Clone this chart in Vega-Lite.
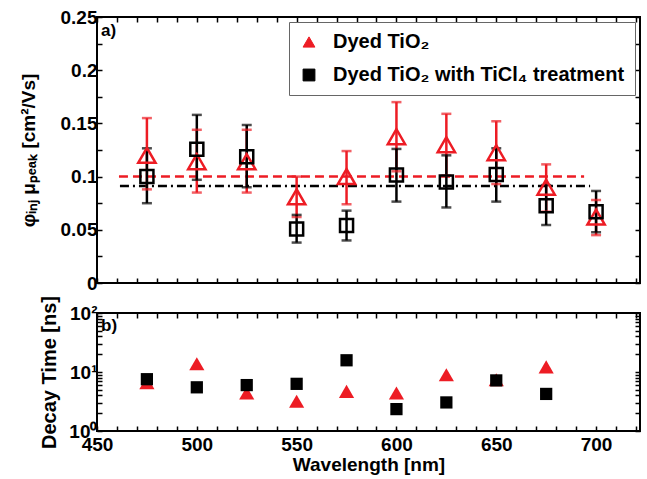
{
  "$schema": "https://vega.github.io/schema/vega-lite/v6.json",
  "autosize": {"type": "none"},
  "padding": {"left": 97, "top": 17, "right": 550, "bottom": 462},
  "datasets": {
    "mob": [
      {"w": 475, "series": "Dyed TiO₂", "v": 0.120, "lo": 0.088, "hi": 0.155},
      {"w": 500, "series": "Dyed TiO₂", "v": 0.114, "lo": 0.085, "hi": 0.144},
      {"w": 525, "series": "Dyed TiO₂", "v": 0.114, "lo": 0.085, "hi": 0.144},
      {"w": 550, "series": "Dyed TiO₂", "v": 0.081, "lo": 0.062, "hi": 0.100},
      {"w": 575, "series": "Dyed TiO₂", "v": 0.100, "lo": 0.074, "hi": 0.124},
      {"w": 600, "series": "Dyed TiO₂", "v": 0.1375, "lo": 0.105, "hi": 0.170},
      {"w": 625, "series": "Dyed TiO₂", "v": 0.130, "lo": 0.101, "hi": 0.159},
      {"w": 650, "series": "Dyed TiO₂", "v": 0.1225, "lo": 0.093, "hi": 0.152},
      {"w": 675, "series": "Dyed TiO₂", "v": 0.090, "lo": 0.067, "hi": 0.1115},
      {"w": 700, "series": "Dyed TiO₂", "v": 0.062, "lo": 0.045, "hi": 0.078},
      {"w": 475, "series": "Dyed TiO₂ with TiCl₄ treatment", "v": 0.100, "lo": 0.075, "hi": 0.1266},
      {"w": 500, "series": "Dyed TiO₂ with TiCl₄ treatment", "v": 0.1257, "lo": 0.097, "hi": 0.158},
      {"w": 525, "series": "Dyed TiO₂ with TiCl₄ treatment", "v": 0.1187, "lo": 0.090, "hi": 0.1485},
      {"w": 550, "series": "Dyed TiO₂ with TiCl₄ treatment", "v": 0.0508, "lo": 0.038, "hi": 0.064},
      {"w": 575, "series": "Dyed TiO₂ with TiCl₄ treatment", "v": 0.054, "lo": 0.040, "hi": 0.068},
      {"w": 600, "series": "Dyed TiO₂ with TiCl₄ treatment", "v": 0.1015, "lo": 0.0765, "hi": 0.126},
      {"w": 625, "series": "Dyed TiO₂ with TiCl₄ treatment", "v": 0.095, "lo": 0.071, "hi": 0.120},
      {"w": 650, "series": "Dyed TiO₂ with TiCl₄ treatment", "v": 0.102, "lo": 0.0765, "hi": 0.1266},
      {"w": 675, "series": "Dyed TiO₂ with TiCl₄ treatment", "v": 0.0727, "lo": 0.0545, "hi": 0.092},
      {"w": 700, "series": "Dyed TiO₂ with TiCl₄ treatment", "v": 0.067, "lo": 0.0477, "hi": 0.0865}
    ],
    "fits": [
      {"series": "Dyed TiO₂", "w1": 461, "w2": 694, "v": 0.100},
      {"series": "Dyed TiO₂ with TiCl₄ treatment", "w1": 461.5, "w2": 697, "v": 0.0912}
    ],
    "decay": [
      {"w": 475, "series": "Dyed TiO₂", "t": 6.6},
      {"w": 500, "series": "Dyed TiO₂", "t": 13.8},
      {"w": 525, "series": "Dyed TiO₂", "t": 4.4},
      {"w": 550, "series": "Dyed TiO₂", "t": 3.2},
      {"w": 575, "series": "Dyed TiO₂", "t": 4.7},
      {"w": 600, "series": "Dyed TiO₂", "t": 4.4},
      {"w": 625, "series": "Dyed TiO₂", "t": 9.0},
      {"w": 650, "series": "Dyed TiO₂", "t": 7.4},
      {"w": 675, "series": "Dyed TiO₂", "t": 12.2},
      {"w": 475, "series": "Dyed TiO₂ with TiCl₄ treatment", "t": 7.55},
      {"w": 500, "series": "Dyed TiO₂ with TiCl₄ treatment", "t": 5.5},
      {"w": 525, "series": "Dyed TiO₂ with TiCl₄ treatment", "t": 6.0},
      {"w": 550, "series": "Dyed TiO₂ with TiCl₄ treatment", "t": 6.3},
      {"w": 575, "series": "Dyed TiO₂ with TiCl₄ treatment", "t": 15.8},
      {"w": 600, "series": "Dyed TiO₂ with TiCl₄ treatment", "t": 2.35},
      {"w": 625, "series": "Dyed TiO₂ with TiCl₄ treatment", "t": 3.05},
      {"w": 650, "series": "Dyed TiO₂ with TiCl₄ treatment", "t": 7.2},
      {"w": 675, "series": "Dyed TiO₂ with TiCl₄ treatment", "t": 4.25}
    ],
    "noteA": [{"label": "a)", "w": 452, "v": 0.237}],
    "noteB": [{"label": "b)", "w": 452, "t": 60}]
  },
  "vconcat": [
    {
      "width": 543,
      "height": 266,
      "layer": [
        {
          "data": {"name": "fits"},
          "transform": [{"filter": "datum.series === 'Dyed TiO₂'"}],
          "mark": {"type": "rule", "strokeWidth": 2.5, "color": "#ed1c24", "strokeDash": [9, 5]},
          "encoding": {
            "x": {"field": "w1", "type": "quantitative", "scale": {"domain": [450, 722], "nice": false, "zero": false},
              "axis": {"orient": "top", "values": [450,460,470,480,490,500,510,520,530,540,550,560,570,580,590,600,610,620,630,640,650,660,670,680,690,700,710,720], "labels": false, "title": null}},
            "x2": {"field": "w2"},
            "y": {"field": "v", "type": "quantitative", "scale": {"domain": [0, 0.25], "nice": false},
              "axis": {"orient": "right", "values": [0,0.025,0.05,0.075,0.1,0.125,0.15,0.175,0.2,0.225,0.25], "labels": false, "title": null}}
          }
        },
        {
          "data": {"name": "fits"},
          "transform": [{"filter": "datum.series !== 'Dyed TiO₂'"}],
          "mark": {"type": "rule", "strokeWidth": 2.5, "color": "#000000", "strokeDash": [9, 4, 2, 4]},
          "encoding": {
            "x": {"field": "w1", "type": "quantitative", "axis": null},
            "x2": {"field": "w2"},
            "y": {"field": "v", "type": "quantitative", "axis": null}
          }
        },
        {
          "data": {"name": "mob"},
          "mark": {"type": "rule", "strokeWidth": 2.5},
          "encoding": {
            "x": {"field": "w", "type": "quantitative", "axis": null},
            "y": {"field": "lo", "type": "quantitative", "axis": null},
            "y2": {"field": "hi"},
            "color": {"field": "series", "type": "nominal", "scale": {"domain": ["Dyed TiO₂", "Dyed TiO₂ with TiCl₄ treatment"], "range": ["#ed1c24", "#000000"]}}
          }
        },
        {
          "data": {"name": "mob"},
          "mark": {"type": "tick", "orient": "horizontal", "size": 10, "thickness": 2.5},
          "encoding": {
            "x": {"field": "w", "type": "quantitative", "axis": null},
            "y": {"field": "lo", "type": "quantitative", "axis": null},
            "color": {"field": "series", "type": "nominal"}
          }
        },
        {
          "data": {"name": "mob"},
          "mark": {"type": "tick", "orient": "horizontal", "size": 10, "thickness": 2.5},
          "encoding": {
            "x": {"field": "w", "type": "quantitative", "axis": null},
            "y": {"field": "hi", "type": "quantitative", "axis": null},
            "color": {"field": "series", "type": "nominal"}
          }
        },
        {
          "data": {"name": "mob"},
          "transform": [{"filter": "datum.series === 'Dyed TiO₂'"}],
          "mark": {"type": "point", "filled": false, "strokeWidth": 2.5, "opacity": 1, "size": 300},
          "encoding": {
            "x": {"field": "w", "type": "quantitative",
              "axis": {"orient": "bottom", "values": [450,460,470,480,490,500,510,520,530,540,550,560,570,580,590,600,610,620,630,640,650,660,670,680,690,700,710,720], "labels": false, "title": null}},
            "y": {"field": "v", "type": "quantitative",
              "axis": {"orient": "left", "values": [0,0.025,0.05,0.075,0.1,0.125,0.15,0.175,0.2,0.225,0.25], "labelExpr": "round(datum.value*1000) % 50 == 0 ? format(datum.value, '~g') : ''", "title": "φᵢₙⱼ μₚₑₐₖ [cm²/Vs]", "titleFontSize": 19, "titlePadding": 22}},
            "color": {"field": "series", "type": "nominal",
              "legend": {"orient": "none", "legendX": 192, "legendY": 5, "title": null, "fillColor": "white", "strokeColor": "#666666", "padding": 10,
                "labelFont": "Liberation Sans", "labelFontWeight": "bold", "labelFontSize": 20, "labelColor": "black", "labelLimit": 500, "labelOffset": 14,
                "symbolSize": 140, "symbolStrokeWidth": 1, "symbolOpacity": 1, "rowPadding": 13,
                "encode": {"symbols": {
                  "enter": {"fill": {"signal": "datum.value === 'Dyed TiO₂' ? '#ed1c24' : '#000000'"}, "stroke": {"signal": "datum.value === 'Dyed TiO₂' ? '#ed1c24' : '#000000'"}, "fillOpacity": {"value": 1}, "strokeOpacity": {"value": 1}, "opacity": {"value": 1}},
                  "update": {"fill": {"signal": "datum.value === 'Dyed TiO₂' ? '#ed1c24' : '#000000'"}, "stroke": {"signal": "datum.value === 'Dyed TiO₂' ? '#ed1c24' : '#000000'"}, "fillOpacity": {"value": 1}, "strokeOpacity": {"value": 1}, "opacity": {"value": 1}}}}}},
            "shape": {"field": "series", "type": "nominal", "scale": {"domain": ["Dyed TiO₂", "Dyed TiO₂ with TiCl₄ treatment"], "range": ["triangle-up", "square"]}}
          }
        },
        {
          "data": {"name": "mob"},
          "transform": [{"filter": "datum.series !== 'Dyed TiO₂'"}],
          "mark": {"type": "point", "filled": false, "strokeWidth": 2.5, "opacity": 1, "size": 170},
          "encoding": {
            "x": {"field": "w", "type": "quantitative", "axis": null},
            "y": {"field": "v", "type": "quantitative", "axis": null},
            "color": {"field": "series", "type": "nominal"},
            "shape": {"field": "series", "type": "nominal"}
          }
        },
        {
          "data": {"name": "noteA"},
          "mark": {"type": "text", "font": "Liberation Sans", "fontWeight": "bold", "fontSize": 17, "align": "left", "baseline": "middle", "color": "black"},
          "encoding": {
            "x": {"field": "w", "type": "quantitative", "axis": null},
            "y": {"field": "v", "type": "quantitative", "axis": null},
            "text": {"field": "label"}
          }
        }
      ],
      "resolve": {"axis": {"x": "independent", "y": "independent"}}
    },
    {
      "width": 543,
      "height": 118,
      "layer": [
        {
          "data": {"name": "decay"},
          "mark": {"type": "point", "filled": true, "opacity": 1},
          "encoding": {
            "x": {"field": "w", "type": "quantitative", "scale": {"domain": [450, 722], "nice": false, "zero": false},
              "axis": {"orient": "bottom", "values": [450,460,470,480,490,500,510,520,530,540,550,560,570,580,590,600,610,620,630,640,650,660,670,680,690,700,710,720], "labelExpr": "datum.value % 50 == 0 ? datum.label : ''", "labelPadding": 9, "title": "Wavelength [nm]", "titleFontSize": 19, "titlePadding": 1}},
            "y": {"field": "t", "type": "quantitative", "scale": {"type": "log", "domain": [1, 100], "nice": false},
              "axis": {"orient": "left", "values": [1,2,3,4,5,6,7,8,9,10,20,30,40,50,60,70,80,90,100], "labelExpr": "datum.value == 1 ? '10⁰' : datum.value == 10 ? '10¹' : datum.value == 100 ? '10²' : ''", "labelFontSize": 19, "title": "Decay Time [ns]", "titleFontSize": 20, "titlePadding": 9}},
            "color": {"field": "series", "type": "nominal", "scale": {"domain": ["Dyed TiO₂", "Dyed TiO₂ with TiCl₄ treatment"], "range": ["#ed1c24", "#000000"]}, "legend": null},
            "shape": {"field": "series", "type": "nominal", "scale": {"domain": ["Dyed TiO₂", "Dyed TiO₂ with TiCl₄ treatment"], "range": ["triangle-up", "square"]}, "legend": null},
            "size": {"field": "series", "type": "nominal", "scale": {"domain": ["Dyed TiO₂", "Dyed TiO₂ with TiCl₄ treatment"], "range": [230, 150]}, "legend": null}
          }
        },
        {
          "data": {"name": "noteB"},
          "mark": {"type": "text", "font": "Liberation Sans", "fontWeight": "bold", "fontSize": 17, "align": "left", "baseline": "middle", "color": "black"},
          "encoding": {
            "x": {"field": "w", "type": "quantitative",
              "axis": {"orient": "top", "values": [450,460,470,480,490,500,510,520,530,540,550,560,570,580,590,600,610,620,630,640,650,660,670,680,690,700,710,720], "labels": false, "title": null}},
            "y": {"field": "t", "type": "quantitative",
              "axis": {"orient": "right", "values": [1,2,3,4,5,6,7,8,9,10,20,30,40,50,60,70,80,90,100], "labels": false, "title": null}},
            "text": {"field": "label"}
          }
        }
      ],
      "resolve": {"axis": {"x": "independent", "y": "independent"}}
    }
  ],
  "spacing": 0,
  "resolve": {"legend": {"color": "independent", "shape": "independent", "size": "independent"}},
  "config": {
    "font": "Liberation Sans",
    "view": {"stroke": "black", "strokeWidth": 2},
    "legend": {"symbolOpacity": 1},
    "axis": {
      "labelFont": "Liberation Sans", "labelFontWeight": "bold", "labelFontSize": 19, "labelColor": "black",
      "titleFont": "Liberation Sans", "titleFontWeight": "bold", "titleFontSize": 17, "titleColor": "black",
      "tickColor": "black", "tickSize": -5, "tickWidth": 1.5, "domain": false, "grid": false, "labelPadding": 5,
      "labelOverlap": false, "labelBound": false, "labelFlush": false
    }
  }
}
